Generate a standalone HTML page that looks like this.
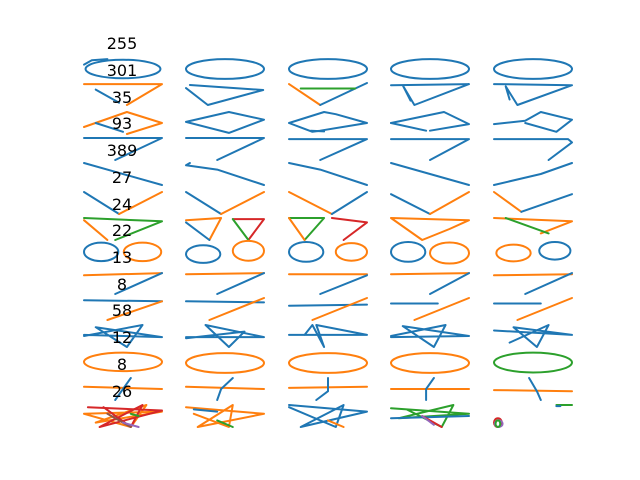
<!DOCTYPE html>
<html><head><meta charset="utf-8">
<style>
html,body{margin:0;padding:0;background:#fff;}
svg{display:block;}
text{font-family:"DejaVu Sans","Liberation Sans",sans-serif;font-size:16px;fill:#000;}
</style></head>
<body>
<svg id="chart" width="640" height="480" viewBox="0 0 640 480"></svg>
<script>
const titles = ["255","301","35","93","389","27","24","22","13","8","58","12","8","26"];
const colX = [84,186,289,391,494];
const rowY = [58,83,112,138,163,192,218,242,272,298,325,352,378,405];
const titleY = [43,70,97,123,150,177,204,230,257,284,310,337,364,391];
const B="#1f77b4",O="#ff7f0e",G="#2ca02c",R="#d62728",P="#9467bd",N="#8c564b";
// each cell: list of strokes [color, points(normalized 0-100)] or [color,'e',cx,cy,rx,ry]
const ell=[[B,'e',50,50,50,45]];
const cells = [
 [ [[B,'e',50,50,48,42],[B,[0,30,10,10,30,5]]], ell, ell, ell, [[B,'e',50,50,50,45]] ],
 [ [[O,[0,5,100,5,55,100]],[B,[15,30,45,90]]],
   [[B,[5,9,99,32,28,100,0,23]]],
   [[O,[0,5,40,100]],[B,[40,100,100,0]],[G,[15,25,85,25]]],
   [[B,[0,10,100,5,30,100,15,10,25,80]]],
   [[B,[0,5,100,10,30,100,15,15,20,75]]] ],
 [ [[O,[0,68,55,0,100,50,55,100]],[B,[15,50,50,90]]],
   [[B,[0,45,55,0,100,35,55,95,0,45]]],
   [[B,[0,50,45,0,60,10,100,50,40,85,30,90,0,50]],[B,[28,85,45,88]]],
   [[B,[0,50,68,0,100,55,50,85]],[B,[0,50,45,85]]],
   [[B,[0,55,40,40,60,0,100,35,80,90,40,50]]] ],
 [ [[B,[0,0,100,0,40,100]]],[[B,[0,0,100,0,40,100]]],[[B,[0,5,100,5,40,100]]],[[B,[0,5,100,5,50,100]]],[[B,[0,5,95,5,100,20,70,100]]] ],
 [ [[B,[0,0,40,40,100,100]]],[[B,[5,0,0,10,40,30,100,100]]],[[B,[0,0,40,30,100,100]]],[[B,[0,0,100,100]]],[[B,[0,100,60,50,100,0]]] ],
 [ [[B,[0,0,45,100]],[O,[45,100,100,0]]],
   [[B,[0,0,45,100]],[O,[45,100,100,0]]],
   [[O,[0,0,55,100]],[B,[55,100,100,0]]],
   [[B,[0,10,50,100]],[O,[50,100,100,0]]],
   [[O,[0,0,35,90]],[B,[35,90,100,10]]] ],
 [ [[G,[0,0,100,15,40,100]],[O,[0,10,30,100]]],
   [[O,[0,10,45,0,30,100]],[B,[0,20,30,100]],[R,[60,5,100,5,80,100]],[G,[60,5,80,100]]],
   [[G,[0,0,45,0,20,100]],[O,[0,0,20,100]],[R,[55,0,100,20,70,100]]],
   [[O,[0,0,100,10,75,50,40,100,0,0]]],
   [[O,[0,0,100,15,60,70]],[G,[15,0,70,70]]] ],
 [ [[B,'e',22,45,22,42],[O,'e',75,45,24,42]],
   [[B,'e',22,55,22,40],[O,'e',80,40,20,45]],
   [[B,'e',22,45,22,45],[O,'e',80,45,20,40]],
   [[B,'e',22,45,22,45],[O,'e',75,50,25,48]],
   [[O,'e',25,50,22,38],[B,'e',78,40,20,40]] ],
 [ [[O,[0,15,100,5]],[B,[40,100,100,5]]],[[O,[0,10,100,5]],[B,[40,100,100,5]]],[[O,[0,10,100,10]],[B,[40,100,100,15]]],[[O,[0,10,100,5]],[B,[50,100,100,5]]],[[O,[0,15,100,10]],[B,[40,100,100,5]]] ],
 [ [[B,[0,10,100,15]],[O,[30,100,100,15]]],[[B,[0,15,100,20]],[O,[30,100,100,0]]],[[B,[0,35,100,30]],[O,[30,100,100,0]]],[[B,[0,25,60,25]],[O,[30,100,100,0]]],[[B,[0,25,60,25]],[O,[30,100,100,0]]] ],
 [ [[B,[0,45,100,55,15,10,55,100,75,0,0,50]]],[[B,[0,55,100,55,25,0,55,100,75,30,0,60]]],[[B,[0,45,100,45,35,0,45,100,30,0,20,45]]],[[B,[0,55,100,50,15,5,55,100,70,0,0,50]]],[[B,[0,25,100,45,25,10,55,100,70,0,20,80]]] ],
 [ [[O,'e',50,45,50,42]],[[O,'e',50,50,50,45]],[[O,'e',50,50,50,45]],[[O,'e',50,50,50,45]],[[G,'e',50,48,50,45]] ],
 [ [[O,[0,40,100,50]],[B,[60,0,40,100]]],[[O,[0,40,100,50]],[B,[60,0,45,50,40,100]]],[[O,[0,45,100,40]],[B,[50,0,50,60,35,100]]],[[O,[0,50,100,50]],[B,[55,0,45,50,45,100]]],[[O,[0,55,100,60]],[B,[45,0,55,60,60,100]]] ],
 [ [[O,[0,40,100,30,15,80,80,0,60,100,0,40]],[R,[5,10,100,25,20,100,75,0,60,100,25,10]],[N,[30,40,60,100]],[P,[50,80,70,100]],[G,[60,40,70,50]]],
   [[O,[0,10,100,40,15,100,60,0,55,100,10,40]],[B,[10,20,40,30]],[G,[40,70,60,100]]],
   [[B,[0,0,100,30,15,100,70,0,60,100,0,10]],[O,[50,70,70,100]]],
   [[G,[0,15,100,40,10,60,80,0,65,100,20,20]],[B,[0,60,100,50]],[R,[40,50,65,100]],[P,[40,50,55,90]]],
   [[R,'e',5,80,5,20],[P,'e',6,85,5,15],[G,'e',5,85,3,15],[G,[80,0,100,0]],[B,[80,5,85,5]]] ]
];
const H=22, W=78;
const svg=document.getElementById('chart');
const NS='http://www.w3.org/2000/svg';
function sx(c,v){return colX[c]+v/100*W;}
function sy(r,v){return rowY[r]+v/100*H;}
for(let r=0;r<cells.length;r++){
  for(let c=0;c<5;c++){
    const g=document.createElementNS(NS,'g');
    
    
    for(const s of cells[r][c]){
      let el;
      if(s[1]==='e'){
        el=document.createElementNS(NS,'ellipse');
        el.setAttribute('cx',sx(c,s[2]));el.setAttribute('cy',sy(r,s[3]));
        el.setAttribute('rx',s[4]/100*W);el.setAttribute('ry',s[5]/100*H);
      } else {
        el=document.createElementNS(NS,'polyline');
        const p=s[1];let pts=[];
        for(let i=0;i<p.length;i+=2)pts.push(sx(c,p[i]).toFixed(1)+','+sy(r,p[i+1]).toFixed(1));
        el.setAttribute('points',pts.join(' '));
      }
      el.setAttribute('fill','none');el.setAttribute('stroke',s[0]);
      el.setAttribute('stroke-width','2');el.setAttribute('stroke-linejoin','round');el.setAttribute('stroke-linecap','round');
      
      
      g.appendChild(el);
    }
    svg.appendChild(g);
  }
}
for(let i=0;i<titles.length;i++){
  const t=document.createElementNS(NS,'text');
  t.setAttribute('x',122);t.setAttribute('y',titleY[i]+6);
  t.setAttribute('text-anchor','middle');
  t.textContent=titles[i];
  
  
  svg.appendChild(t);
}
</script>
</body></html>
